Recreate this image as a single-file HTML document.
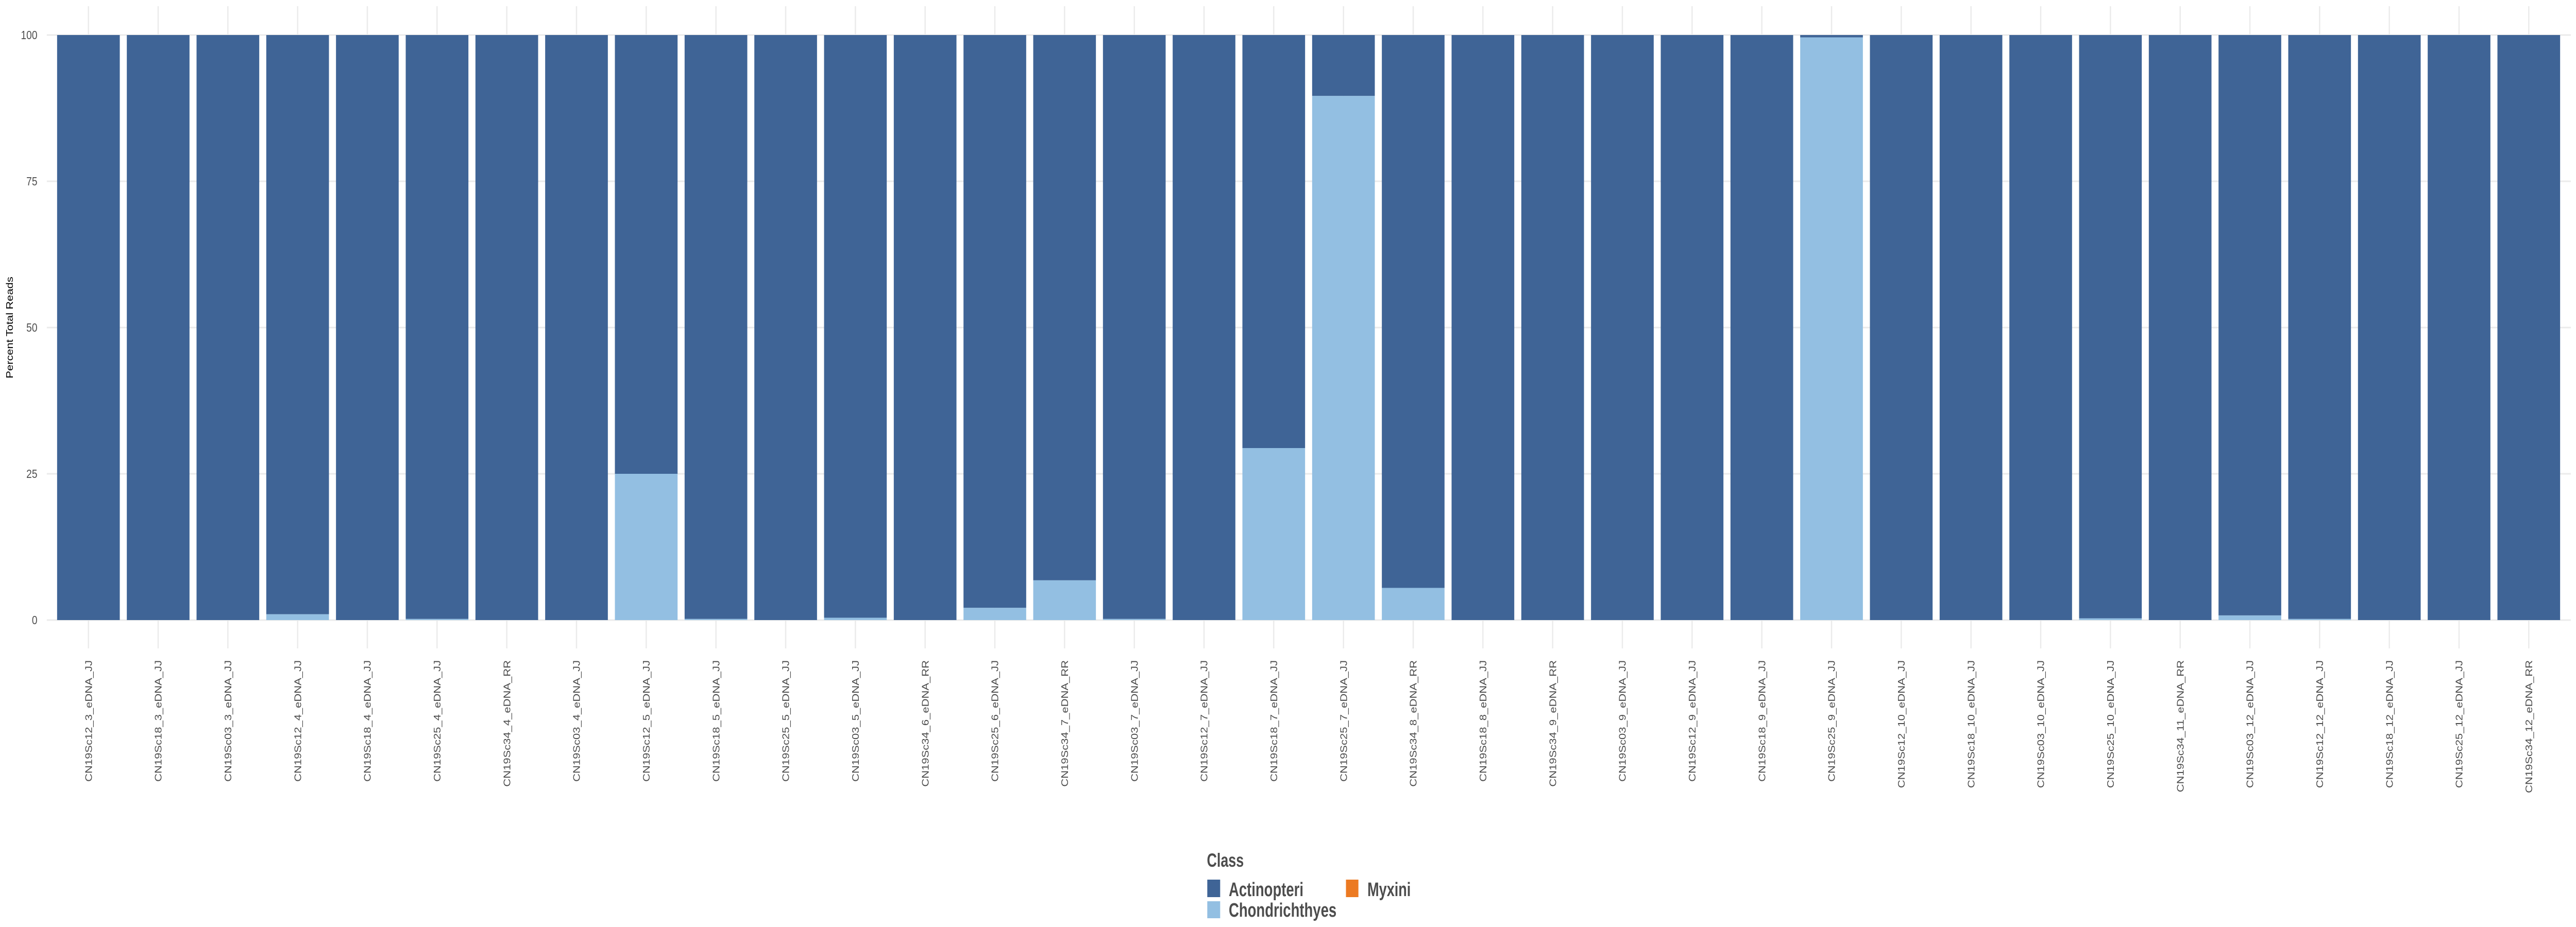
<!DOCTYPE html>
<html><head><meta charset="utf-8"><style>
html,body{margin:0;padding:0;background:#fff;overflow:hidden;width:100%;height:100%;}
svg{display:block;font-family:"Liberation Sans",Arial,sans-serif;width:100vw;height:100vh;}
</style></head><body>
<svg id="chart" viewBox="0 0 6000 1800" preserveAspectRatio="none" xmlns="http://www.w3.org/2000/svg">
<g id="grid"></g>
<g id="bars"></g>
<g id="yticks"></g>
<g id="xticks"></g>
<text transform="translate(30,636) rotate(-90)" text-anchor="middle" font-size="22" fill="#000">Percent Total Reads</text>
<g>
<text x="2811" y="1683" font-size="37" font-weight="bold" fill="#4d4d4d" textLength="86" lengthAdjust="spacingAndGlyphs">Class</text>
<g>
<rect x="2812" y="1708" width="30" height="34" fill="#3f6496"/>
<text x="2862" y="1740" font-size="38" font-weight="bold" fill="#4d4d4d" textLength="174" lengthAdjust="spacingAndGlyphs">Actinopteri</text></g>
<g>
<rect x="2812" y="1750" width="30" height="33" fill="#93bfe2"/>
<text x="2862" y="1780" font-size="38" font-weight="bold" fill="#4d4d4d" textLength="251" lengthAdjust="spacingAndGlyphs">Chondrichthyes</text></g>
<g>
<rect x="3135" y="1708" width="29" height="34" fill="#ec7a22"/>
<text x="3185" y="1740" font-size="38" font-weight="bold" fill="#4d4d4d" textLength="101" lengthAdjust="spacingAndGlyphs">Myxini</text></g>
</g>
</svg>
<script>
const categories = ["CN19Sc12_3_eDNA_JJ","CN19Sc18_3_eDNA_JJ","CN19Sc03_3_eDNA_JJ","CN19Sc12_4_eDNA_JJ","CN19Sc18_4_eDNA_JJ","CN19Sc25_4_eDNA_JJ","CN19Sc34_4_eDNA_RR","CN19Sc03_4_eDNA_JJ","CN19Sc12_5_eDNA_JJ","CN19Sc18_5_eDNA_JJ","CN19Sc25_5_eDNA_JJ","CN19Sc03_5_eDNA_JJ","CN19Sc34_6_eDNA_RR","CN19Sc25_6_eDNA_JJ","CN19Sc34_7_eDNA_RR","CN19Sc03_7_eDNA_JJ","CN19Sc12_7_eDNA_JJ","CN19Sc18_7_eDNA_JJ","CN19Sc25_7_eDNA_JJ","CN19Sc34_8_eDNA_RR","CN19Sc18_8_eDNA_JJ","CN19Sc34_9_eDNA_RR","CN19Sc03_9_eDNA_JJ","CN19Sc12_9_eDNA_JJ","CN19Sc18_9_eDNA_JJ","CN19Sc25_9_eDNA_JJ","CN19Sc12_10_eDNA_JJ","CN19Sc18_10_eDNA_JJ","CN19Sc03_10_eDNA_JJ","CN19Sc25_10_eDNA_JJ","CN19Sc34_11_eDNA_RR","CN19Sc03_12_eDNA_JJ","CN19Sc12_12_eDNA_JJ","CN19Sc18_12_eDNA_JJ","CN19Sc25_12_eDNA_JJ","CN19Sc34_12_eDNA_RR"];
const chondrichthyes = [0,0,0,1.0,0,0.2,0,0,25,0.2,0,0.4,0,2.1,6.8,0.2,0,29.4,89.6,5.5,0,0,0,0,0,99.6,0,0,0,0.3,0,0.8,0.2,0,0,0];
const myxini = [0,0,0,0,0,0,0,0,0,0,0,0,0,0,0,0,0,0,0,0,0,0,0,0,0,0,0,0,0,0,0,0,0,0,0,0];
const actinopteri = [100,100,100,99.0,100,99.8,100,100,75,99.8,100,99.6,100,97.9,93.2,99.8,100,70.6,10.4,94.5,100,100,100,100,100,0.4,100,100,100,99.7,100,99.2,99.8,100,100,100];
const yTicks = [0,25,50,75,100];

const NS="http://www.w3.org/2000/svg";
const x0=206, step=162.4, bw=146;
const y=v=>1204-v*11.36;
const xc=i=>x0+i*step;
function mk(tag,attrs,parent){const e=document.createElementNS(NS,tag);for(const k in attrs)e.setAttribute(k,attrs[k]);parent.appendChild(e);return e;}
const grid=document.getElementById('grid'),bars=document.getElementById('bars'),yt=document.getElementById('yticks'),xt=document.getElementById('xticks');
yTicks.forEach(t=>{
  const l=mk('line',{x1:109,x2:5988,y1:y(t),y2:y(t),stroke:'#ebebeb','stroke-width':3},grid);
  
  
  const tx=mk('text',{x:87,y:y(t)+8,'text-anchor':'end','font-size':23,fill:'#4d4d4d'},yt);
  tx.textContent=t;
  
  
});
categories.forEach((c,i)=>{
  const l=mk('line',{x1:xc(i),x2:xc(i),y1:12,y2:1259,stroke:'#ebebeb','stroke-width':3},grid);
  
  
  let base=0;
  [[chondrichthyes,'#93bfe2','chondrichthyes'],[myxini,'#ec7a22','myxini'],[actinopteri,'#3f6496','actinopteri']].forEach(([arr,col,nm])=>{
    const v=arr[i]; if(v<=0)return;
    const r=mk('rect',{x:xc(i)-bw/2,y:y(base+v),width:bw,height:y(base)-y(base+v),fill:col},bars);
    
    
    base+=v;
  });
  const tx=mk('text',{transform:`translate(${xc(i)+8},1282) rotate(-90)`,'text-anchor':'end','font-size':22,fill:'#4d4d4d'},xt);
  tx.textContent=c;
  
  
});
</script>
</body></html>
